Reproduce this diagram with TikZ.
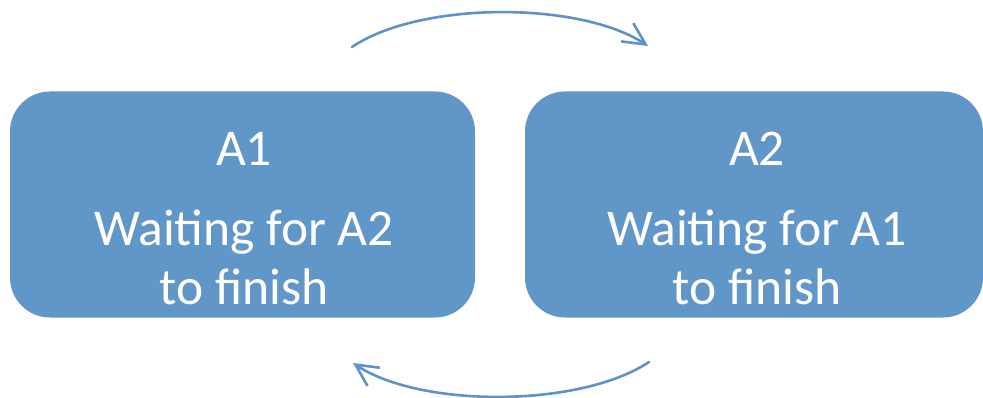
\documentclass[tikz,border=0pt]{standalone}
\usepackage{fontspec}
\setmainfont{Carlito}
\usetikzlibrary{arrows.meta}
\definecolor{boxblue}{RGB}{97,150,201}
\definecolor{arrowblue}{RGB}{94,146,200}
\tikzset{
  statebox/.style={rectangle, rounded corners=40pt, fill=boxblue, draw=none, inner sep=0pt},
  lbl/.style={anchor=base, text=white, inner sep=0pt, font=\fontsize{51.5}{60}\selectfont},
  cyc/.style={draw=arrowblue, line width=2.6pt, line cap=round, -{Straight Barb[length=22pt,width=22pt,line width=2.6pt]}}
}
\begin{document}
\begin{tikzpicture}[x=1pt,y=-1pt]
\useasboundingbox (0,0) rectangle (983,398);
\node[statebox, minimum width=465pt, minimum height=226pt] (b1) at (242.5,204.5) {};
\node[statebox, minimum width=458pt, minimum height=226pt] (b2) at (754,204.5) {};
\node[lbl] (t1) at (244,166) {A1};
\node[lbl] (t1a) at (244,246) {Waiting for A2};
\node[lbl] (t1b) at (244,305) {to finish};
\node[lbl] (t2) at (757,166) {A2};
\node[lbl] (t2a) at (757,246) {Waiting for A1};
\node[lbl] (t2b) at (757,305) {to finish};
\coordinate (ts) at (352,47);
\coordinate (te) at (648,46);
\coordinate (bs) at (649,362);
\coordinate (be) at (353,363);
\draw[cyc] (ts) .. controls (420,1) and (580,1) .. (te);
\draw[cyc] (bs) .. controls (580,408) and (420,408) .. (be);
\end{tikzpicture}
\end{document}
